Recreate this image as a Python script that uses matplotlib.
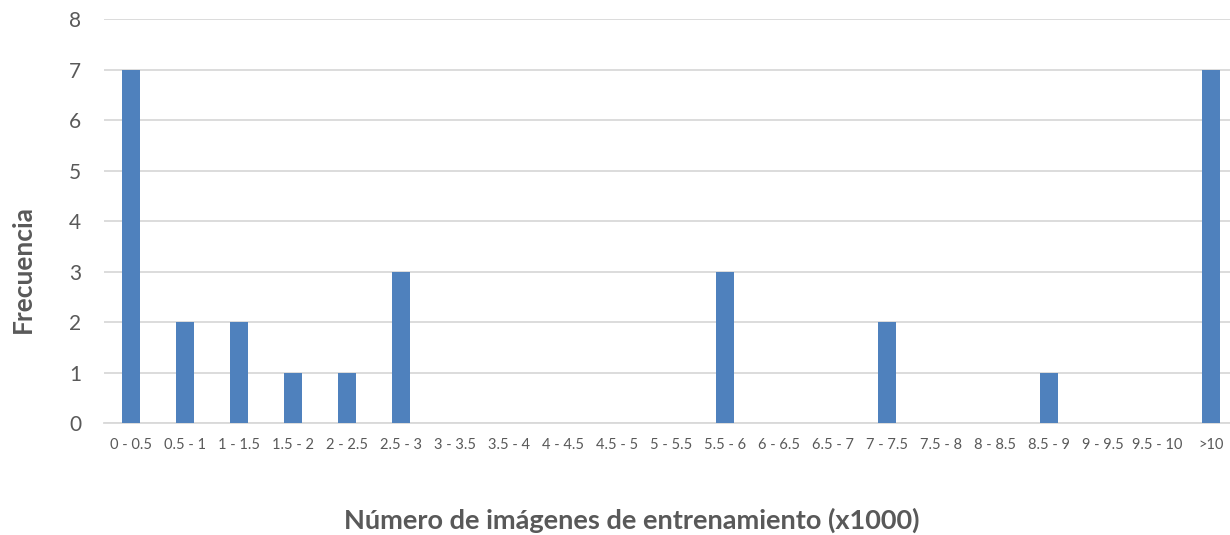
import numpy as np
import matplotlib.pyplot as plt

categorias = ["0 - 0.5", "0.5 - 1", "1 - 1.5", "1.5 - 2", "2 - 2.5", "2.5 - 3",
              "3 - 3.5", "3.5 - 4", "4 - 4.5", "4.5 - 5", "5 - 5.5", "5.5 - 6",
              "6 - 6.5", "6.5 - 7", "7 - 7.5", "7.5 - 8", "8 - 8.5", "8.5 - 9",
              "9 - 9.5", "9.5 - 10", ">10"]
frecuencia = [7, 2, 2, 1, 1, 3, 0, 0, 0, 0, 0, 3, 0, 0, 2, 0, 0, 1, 0, 0, 7]

texto = "#595959"
plt.rcParams['font.family'] = ['Lato', 'DejaVu Sans']

fig = plt.figure(figsize=(12.3, 5.35), dpi=100)
# el area de trazado sigue un poco mas alla del borde derecho
ax = fig.add_axes([0.0846, 0.209, 0.922, 0.7555])

x = np.arange(len(categorias))
ax.bar(x, frecuencia, width=0.32, color="#4F81BD", zorder=3)

ax.set_xlim(-0.5, len(categorias) - 0.5)
ax.set_ylim(0, 8)
ax.set_yticks(range(0, 9))
ax.yaxis.grid(True, color="#D9D9D9", linewidth=1.3, zorder=0)
for s in ["top", "right", "left"]:
    ax.spines[s].set_visible(False)
ax.spines["bottom"].set_color("#D9D9D9")
ax.spines["bottom"].set_linewidth(1.3)

ax.set_xticks(x)
ax.set_xticklabels(categorias, fontsize=10.5, color=texto)
ax.tick_params(axis="x", length=0, pad=11)
ax.tick_params(axis="y", length=0, labelsize=15, labelcolor=texto, pad=16.5)

fig.text(0.514, 0.028, "Número de imágenes de entrenamiento (x1000)", fontsize=19.5,
         fontweight="bold", color=texto, ha="center", va="center")
fig.text(0.019, 0.497, "Frecuencia", rotation=90, fontsize=19, fontweight="bold",
         color=texto, ha="center", va="center")

fig.savefig("out.png", dpi=100)
